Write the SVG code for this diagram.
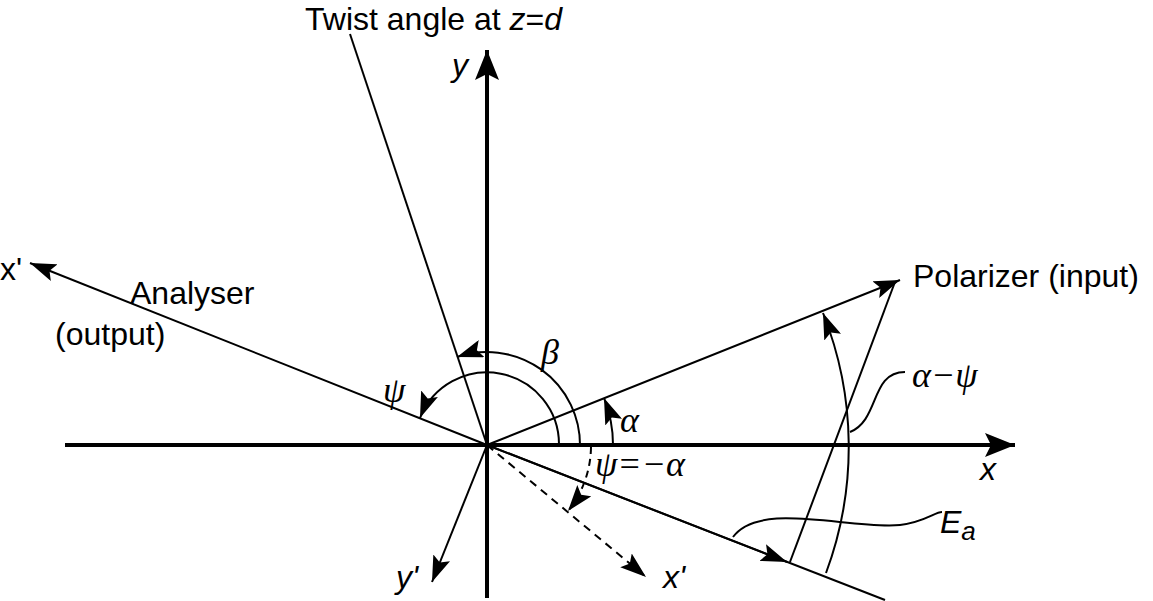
<svg xmlns="http://www.w3.org/2000/svg" width="1153" height="601" viewBox="0 0 1153 601">
<defs>
<marker id="am" viewBox="0 0 26 18" markerWidth="26" markerHeight="18" refX="26" refY="9" orient="auto" markerUnits="userSpaceOnUse"><path d="M0,0 L26,9 L0,18 L5,9 Z" fill="#000"/></marker>
<marker id="al" viewBox="0 0 30 24" markerWidth="30" markerHeight="24" refX="30" refY="12" orient="auto" markerUnits="userSpaceOnUse"><path d="M0,0 L30,12 L0,24 L6,12 Z" fill="#000"/></marker>
</defs>
<style>
.t{font-family:"Liberation Sans",Arial,sans-serif;font-size:32px;fill:#000}
.g{font-family:"Liberation Serif","DejaVu Serif",serif;font-style:italic;font-size:36px;fill:#000}
.l{stroke:#000;stroke-width:2;fill:none}
.ax{stroke:#000;stroke-width:4;fill:none}
</style>
<rect width="1153" height="601" fill="#fff"/>
<g id="connectors">
<line class="ax" x1="65" y1="445" x2="1015" y2="445" marker-end="url(#al)"/>
<line class="ax" x1="487" y1="598" x2="487" y2="50" marker-end="url(#al)"/>
<line class="l" x1="487" y1="445" x2="900" y2="280" marker-end="url(#am)"/>
<line class="l" x1="487" y1="445" x2="30" y2="263" marker-end="url(#am)"/>
<line class="l" x1="487" y1="445" x2="350" y2="34"/>
<line class="l" x1="487" y1="445" x2="885" y2="600"/>
<line class="l" x1="487" y1="445" x2="787" y2="562" marker-end="url(#am)"/>
<line class="l" x1="487" y1="445" x2="432" y2="582" marker-end="url(#am)"/>
<line class="l" x1="487" y1="445" x2="646" y2="577" stroke-dasharray="8,6" marker-end="url(#am)"/>
<path class="l" d="M580,445 A93,93 0 0 0 457,357" marker-end="url(#am)"/>
<path class="l" d="M559,445 A72,72 0 0 0 420,418" marker-end="url(#am)"/>
<path class="l" d="M613,445 A126,126 0 0 0 604,398" marker-end="url(#am)"/>
<path class="l" d="M591,447 A104,104 0 0 1 568,511" stroke-dasharray="7,5" marker-end="url(#am)"/>
<path class="l" d="M826,573 A361,361 0 0 0 823,313" marker-end="url(#am)"/>
<line class="l" x1="790" y1="562" x2="895" y2="282"/>
<path class="l" d="M850,432 C880,420 870,372 905,372"/>
<path class="l" d="M733,537 C760,500 850,530 900,525 C925,522 935,512 942,512"/>
</g>
<g id="labels">
<text class="t" x="305" y="30">Twist angle at <tspan font-style="italic">z</tspan>=<tspan font-style="italic">d</tspan></text>
<text class="t" x="452" y="76" font-style="italic">y</text>
<text class="t" x="0" y="280">x'</text>
<text class="t" x="130" y="304">Analyser</text>
<text class="t" x="55" y="345">(output)</text>
<text class="t" x="913" y="287">Polarizer (input)</text>
<text class="g" x="541" y="364">β</text>
<text class="g" x="383" y="402">ψ</text>
<text class="g" x="620" y="432">α</text>
<text class="g" x="595" y="476">ψ=−α</text>
<text class="g" x="912" y="387">α−ψ</text>
<text class="t" x="980" y="480" font-style="italic">x</text>
<text class="t" x="940" y="533" font-style="italic" font-size="36">E<tspan font-size="26" dy="7">a</tspan></text>
<text class="t" x="396" y="588" font-style="italic">y'</text>
<text class="t" x="663" y="588" font-style="italic">x'</text>
</g>
</svg>
